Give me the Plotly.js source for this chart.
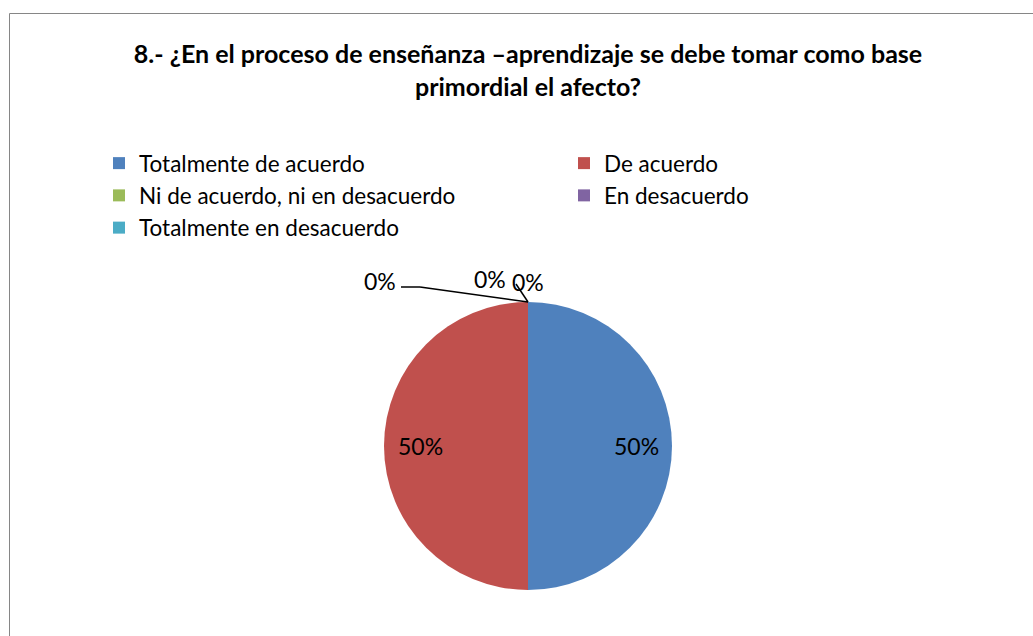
<!DOCTYPE html>
<html>
<head>
<meta charset="utf-8">
<script src="https://cdn.plot.ly/plotly-3.0.1.min.js"></script>
<style>html,body{margin:0;padding:0;background:#fff}#chart{width:1033px;height:636px}</style>
</head>
<body>
<div id="chart"></div>
<script>
const categories = ["Totalmente de acuerdo", "De acuerdo", "Ni de acuerdo, ni en desacuerdo", "En desacuerdo", "Totalmente en desacuerdo"];
const values = [50, 50, 0, 0, 0];
const colors = ["#4F81BD", "#C0504D", "#9BBB59", "#8064A2", "#4BACC6"];
const titleText = "8.- ¿En el proceso de enseñanza –aprendizaje se debe tomar como base<br>primordial el afecto?";
const zeroLabels = ["0%", "0%", "0%"];

const W = 1033, H = 636;
const px = x => x / W;
const py = y => 1 - y / H;
const FONT = "Lato, 'Liberation Sans', sans-serif";

// pie geometry (layout only)
const CX = 528, CY = 446, R = 144;

const trace = {
  type: "pie",
  labels: categories,
  values: values,
  marker: {colors: colors, line: {width: 0}},
  sort: false,
  direction: "clockwise",
  rotation: 0,
  textinfo: "none",
  hoverinfo: "label+percent",
  domain: {x: [px(CX - R), px(CX + R)], y: [py(CY + R), py(CY - R)]}
};

const annotations = [];
// percentage labels for non-zero slices, placed at slice mid-angle
const total = values.reduce((a, b) => a + b, 0);
let cum = 0;
values.forEach((v, i) => {
  const frac = v / total;
  const mid = (cum + frac / 2) * 2 * Math.PI; // clockwise from top
  cum += frac;
  if (v > 0) {
    const x = CX + 0.75 * R * Math.sin(mid);
    const y = CY - 0.75 * R * Math.cos(mid);
    annotations.push({text: Math.round(frac * 100) + "%", x: px(x), y: py(y), xref: "paper", yref: "paper",
      showarrow: false, font: {family: FONT, size: 23, color: "#000"}, xanchor: "center", yanchor: "middle"});
  }
});

const zeroPos = [[380, 281], [490, 279], [528, 282]];
zeroLabels.forEach((t, i) => {
  annotations.push({text: t, x: px(zeroPos[i][0]), y: py(zeroPos[i][1]), xref: "paper", yref: "paper",
    showarrow: false, font: {family: FONT, size: 23, color: "#000"}, xanchor: "center", yanchor: "middle"});
});

const ln = (x0, y0, x1, y1, color, w) => ({type: "line", xref: "paper", yref: "paper",
  x0: px(x0), y0: py(y0), x1: px(x1), y1: py(y1), line: {color: color, width: w}});

const layout = {
  width: W, height: H,
  margin: {l: 0, r: 0, t: 0, b: 0},
  paper_bgcolor: "#fff",
  title: {text: titleText, x: px(528), xanchor: "center", y: py(63), yanchor: "middle",
    font: {family: FONT, size: 25, color: "#000", weight: "bold"}},
  showlegend: true,
  legend: {orientation: "h", x: px(99), xanchor: "left", y: py(142), yanchor: "top",
    entrywidth: 420, entrywidthmode: "pixels", itemwidth: 30,
    bgcolor: "rgba(0,0,0,0)",
    font: {family: FONT, size: 22.5, color: "#000"},
    itemclick: false, traceorder: "normal"},
  annotations: annotations,
  shapes: [
    ln(9.5, 636, 9.5, 13.5, "#868686", 1),
    ln(9.5, 13.5, 1033, 13.5, "#868686", 1),
    ln(401, 287, 420, 287, "#000", 1.5),
    ln(420, 287, 528, 302, "#000", 1.5),
    ln(528, 302, 516, 284, "#000", 1.5)
  ]
};

Plotly.newPlot("chart", [trace], layout, {displayModeBar: false, staticPlot: true});
</script>
</body>
</html>
